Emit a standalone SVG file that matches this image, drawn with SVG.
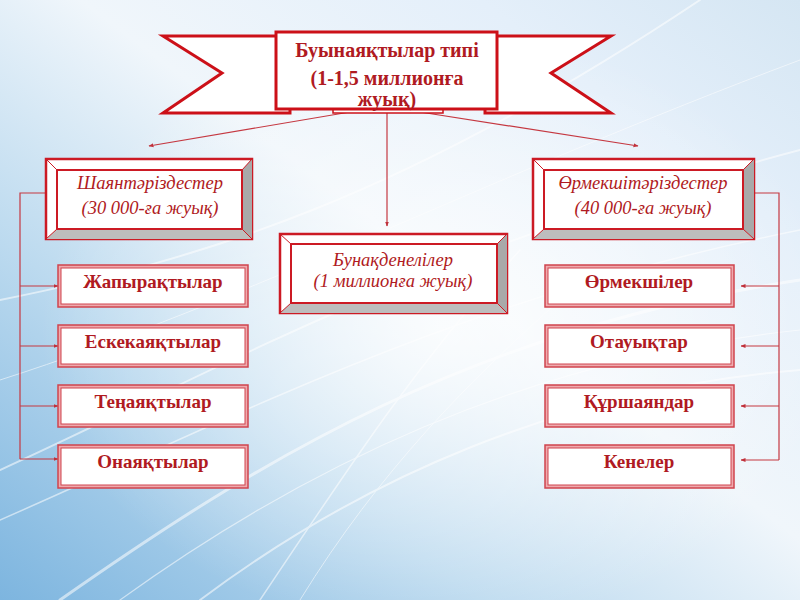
<svg xmlns="http://www.w3.org/2000/svg" width="800" height="600" viewBox="0 0 800 600">
<defs>
<linearGradient id="bg" x1="0" y1="1" x2="1" y2="0">
<stop offset="0" stop-color="#7db5df"/>
<stop offset="0.3" stop-color="#bcdaef"/>
<stop offset="0.55" stop-color="#f0f6fb"/>
<stop offset="0.8" stop-color="#e4effa"/>
<stop offset="1" stop-color="#d5e6f3"/>
</linearGradient>
<radialGradient id="glow" cx="0.55" cy="0.55" r="0.5">
<stop offset="0" stop-color="#ffffff" stop-opacity="0.8"/>
<stop offset="1" stop-color="#ffffff" stop-opacity="0"/>
</radialGradient>
<marker id="ah" viewBox="0 0 10 10" refX="9" refY="5" markerWidth="5" markerHeight="5" orient="auto-start-reverse" markerUnits="userSpaceOnUse">
<path d="M0,1 L10,5 L0,9 z" fill="#c0303a"/>
</marker>
<style>
.ttl{font-family:"Liberation Serif","Times New Roman",serif;font-weight:bold;font-size:20px;fill:#b01a22;text-anchor:middle}
.it{font-family:"Liberation Serif","Times New Roman",serif;font-style:italic;font-size:18.5px;fill:#b01a22;text-anchor:middle}
.sm{font-family:"Liberation Serif","Times New Roman",serif;font-weight:bold;font-size:19px;fill:#b01a22;text-anchor:middle}
.rib{fill:#ffffff;stroke:#cc1018;stroke-width:3;stroke-linejoin:miter}
.bo{fill:#ffffff;stroke:#cc1a24;stroke-width:2.5}
.bi{fill:#ffffff;stroke:#cc1a24;stroke-width:2}
.gr{fill:#a9a9a9}
.gr2{fill:#bdbdbd}
.bv{stroke:#cc1a24;stroke-width:1}
.so{fill:#eeaaae;stroke:#d0444e;stroke-width:1.5}
.si{fill:#ffffff;stroke:#d0444e;stroke-width:1}
.cn{fill:none;stroke:#c53841;stroke-width:1.2}
.st{fill:none;stroke:#ffffff;stroke-linecap:round}
</style>
</defs>
<rect width="800" height="600" fill="url(#bg)"/>
<rect width="800" height="600" fill="url(#glow)"/>
<g opacity="0.55">
<path class="st" stroke-width="2" d="M0,470 C200,380 420,250 800,150"/>
<path class="st" stroke-width="1.5" d="M0,520 C230,420 450,300 800,230"/>
<path class="st" stroke-width="3" d="M60,600 C260,460 470,330 800,280"/>
<path class="st" stroke-width="1.2" d="M120,600 C300,470 520,360 800,330"/>
<path class="st" stroke-width="2" d="M200,600 C360,480 560,390 800,370"/>
<path class="st" stroke-width="1" d="M0,380 C250,300 480,180 800,60"/>
<path class="st" stroke-width="1.5" d="M260,600 C360,450 420,360 520,250"/>
<path class="st" stroke-width="1" d="M300,600 C380,470 470,380 560,300"/>
<path class="st" stroke-width="2" d="M0,300 C200,260 400,200 700,0"/>
</g>

<g id="connectors">
<line class="cn" x1="350" y1="112" x2="149" y2="146" marker-end="url(#ah)"/>
<line class="cn" x1="420" y1="112" x2="638" y2="146" marker-end="url(#ah)"/>
<line class="cn" x1="387" y1="107" x2="387" y2="226" marker-end="url(#ah)"/>
<polyline class="cn" points="45,193 20,193 20,459"/>
<line class="cn" x1="20" y1="286" x2="58" y2="286" marker-end="url(#ah)"/>
<line class="cn" x1="20" y1="346" x2="58" y2="346" marker-end="url(#ah)"/>
<line class="cn" x1="20" y1="406" x2="58" y2="406" marker-end="url(#ah)"/>
<line class="cn" x1="20" y1="459" x2="58" y2="459" marker-end="url(#ah)"/>
<polyline class="cn" points="754,193 779,193 779,460"/>
<line class="cn" x1="779" y1="286" x2="741" y2="286" marker-end="url(#ah)"/>
<line class="cn" x1="779" y1="346" x2="741" y2="346" marker-end="url(#ah)"/>
<line class="cn" x1="779" y1="406" x2="741" y2="406" marker-end="url(#ah)"/>
<line class="cn" x1="779" y1="460" x2="741" y2="460" marker-end="url(#ah)"/>
</g>

<g id="root">
<polygon class="rib" points="163,36 290,36 290,113 163,113 222,73"/>
<polygon class="rib" points="611,36 485,36 485,113 611,113 551,73"/>
<rect x="333" y="109" width="110" height="4" fill="#ffffff" stroke="#cc1018" stroke-width="1.5"/>
<rect class="rib" x="276" y="32" width="221" height="77"/>
<text class="ttl" x="387" y="57">Буынаяқтылар типі</text>
<text class="ttl" x="387" y="85">(1-1,5 миллионға</text>
<text class="ttl" x="387" y="106">жуық)</text>
</g>

<g id="crustacea">
<rect class="bo" x="46" y="159" width="206" height="80"/>
<polygon class="gr" points="252,159 252,239 242,229 242,170"/>
<polygon class="gr2" points="46,239 252,239 242,229 57,229"/>
<line class="bv" x1="46" y1="159" x2="57" y2="170"/>
<line class="bv" x1="252" y1="159" x2="242" y2="170"/>
<line class="bv" x1="46" y1="239" x2="57" y2="229"/>
<line class="bv" x1="252" y1="239" x2="242" y2="229"/>
<rect class="bi" x="57" y="170" width="185" height="59"/>
<text class="it" x="150" y="189">Шаянтәріздестер</text>
<text class="it" x="150" y="214">(30 000-ға жуық)</text>
</g>

<g id="arachnida">
<rect class="bo" x="533" y="159" width="221" height="80"/>
<polygon class="gr" points="754,159 754,239 743,229 743,170"/>
<polygon class="gr2" points="533,239 754,239 743,229 544,229"/>
<line class="bv" x1="533" y1="159" x2="544" y2="170"/>
<line class="bv" x1="754" y1="159" x2="743" y2="170"/>
<line class="bv" x1="533" y1="239" x2="544" y2="229"/>
<line class="bv" x1="754" y1="239" x2="743" y2="229"/>
<rect class="bi" x="544" y="170" width="199" height="59"/>
<text class="it" x="643" y="189">Өрмекшітәріздестер</text>
<text class="it" x="643" y="214">(40 000-ға жуық)</text>
</g>

<g id="insecta">
<rect class="bo" x="280" y="234" width="227" height="79"/>
<polygon class="gr" points="507,234 507,313 497,303 497,244"/>
<polygon class="gr2" points="280,313 507,313 497,303 291,303"/>
<line class="bv" x1="280" y1="234" x2="291" y2="244"/>
<line class="bv" x1="507" y1="234" x2="497" y2="244"/>
<line class="bv" x1="280" y1="313" x2="291" y2="303"/>
<line class="bv" x1="507" y1="313" x2="497" y2="303"/>
<rect class="bi" x="291" y="244" width="206" height="59"/>
<text class="it" x="393" y="266">Бунақденелілер</text>
<text class="it" x="393" y="287">(1 миллионға жуық)</text>
</g>

<g id="l1"><rect class="so" x="58" y="265" width="190" height="42"/><rect class="si" x="61" y="268" width="184" height="36"/><text class="sm" x="153" y="288">Жапырақтылар</text></g>
<g id="l2"><rect class="so" x="58" y="325" width="190" height="42"/><rect class="si" x="61" y="328" width="184" height="36"/><text class="sm" x="153" y="348">Ескекаяқтылар</text></g>
<g id="l3"><rect class="so" x="58" y="385" width="190" height="42"/><rect class="si" x="61" y="388" width="184" height="36"/><text class="sm" x="153" y="408">Теңаяқтылар</text></g>
<g id="l4"><rect class="so" x="58" y="445" width="190" height="43"/><rect class="si" x="61" y="448" width="184" height="37"/><text class="sm" x="153" y="468">Онаяқтылар</text></g>

<g id="r1"><rect class="so" x="545" y="265" width="189" height="42"/><rect class="si" x="548" y="268" width="183" height="36"/><text class="sm" x="639" y="288">Өрмекшілер</text></g>
<g id="r2"><rect class="so" x="545" y="325" width="189" height="42"/><rect class="si" x="548" y="328" width="183" height="36"/><text class="sm" x="639" y="348">Отауықтар</text></g>
<g id="r3"><rect class="so" x="545" y="385" width="189" height="42"/><rect class="si" x="548" y="388" width="183" height="36"/><text class="sm" x="639" y="408">Құршаяндар</text></g>
<g id="r4"><rect class="so" x="545" y="445" width="189" height="43"/><rect class="si" x="548" y="448" width="183" height="37"/><text class="sm" x="639" y="468">Кенелер</text></g>
</svg>
